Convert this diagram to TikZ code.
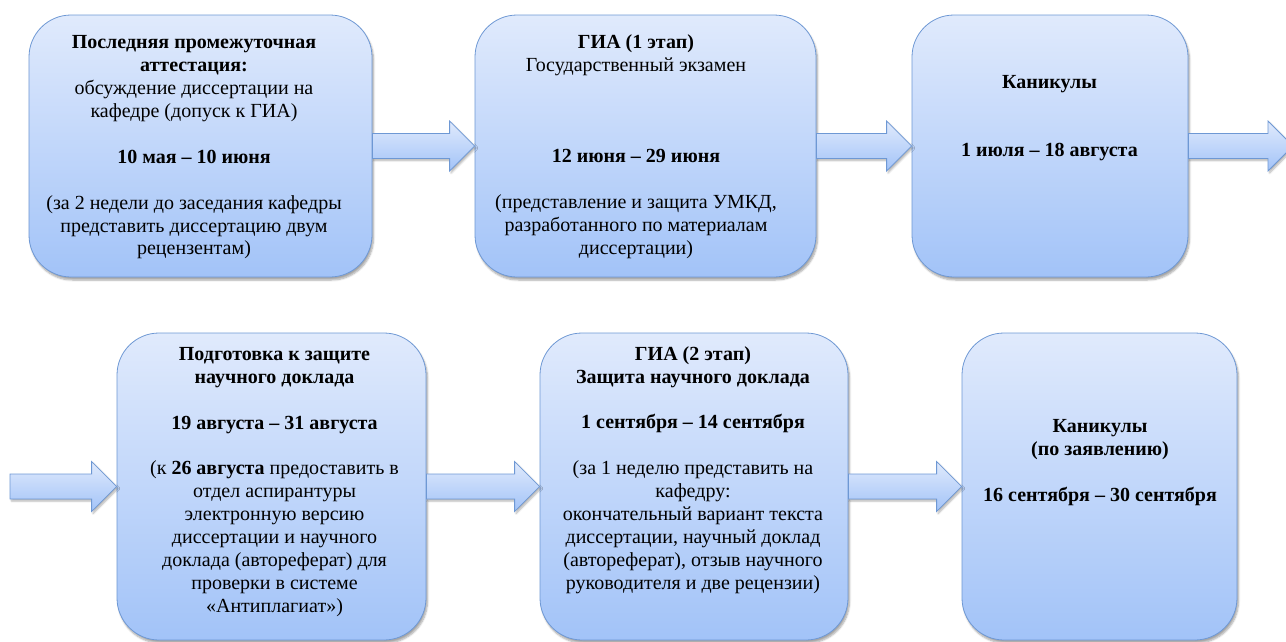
\documentclass[tikz,border=0pt]{standalone}
\usepackage{fontspec}
\setmainfont{Liberation Serif}
\usepackage{tikz}
\usetikzlibrary{calc,shadows.blur}
\definecolor{boxtop}{RGB}{224,234,252}
\definecolor{boxbot}{RGB}{162,195,248}
\definecolor{boxline}{RGB}{110,152,212}
\tikzstyle{stage} = [rectangle, rounded corners=42pt, draw=boxline, thick, top color=boxtop, bottom color=boxbot,
  blur shadow={shadow xshift=1.5pt, shadow yshift=-3pt, shadow blur steps=6, shadow opacity=35}]
\tikzstyle{stagetext} = [align=center, inner sep=0pt, text=black, font=\fontsize{20}{22.9}\selectfont]
\tikzstyle{fatarrow} = [draw=boxline, thick, top color=boxtop, bottom color=boxbot,
  blur shadow={shadow xshift=1.5pt, shadow yshift=-2pt, shadow blur steps=5, shadow opacity=30}]
\newcommand{\fatarrow}[2]{%
  \path[fatarrow] ($(#1)+(0,-12.5)$) -- ($(#2)+(-25,-12.5)$) -- ($(#2)+(-25,-25)$) -- (#2)
    -- ($(#2)+(-25,25)$) -- ($(#2)+(-25,12.5)$) -- ($(#1)+(0,12.5)$) -- cycle;}

\begin{document}
\begin{tikzpicture}[x=1pt,y=-1pt]
  \useasboundingbox (0,0) rectangle (1286,641);
  % upper row
  \node[stage, minimum width=343pt, minimum height=262pt] (b1) at (200.5,146) {};
  \node[stage, minimum width=341pt, minimum height=262pt] (b2) at (645.5,146) {};
  \node[stage, minimum width=276pt, minimum height=262pt] (b3) at (1050,146) {};
  % lower row
  \node[stage, minimum width=309pt, minimum height=307pt] (b4) at (271.5,486.5) {};
  \node[stage, minimum width=308pt, minimum height=307pt] (b5) at (694,486.5) {};
  \node[stage, minimum width=275pt, minimum height=307pt] (b6) at (1099.5,486.5) {};
  \coordinate (out1) at (1293,146);
  \coordinate (in2) at (10,486.5);

  \node[stagetext] (t1) at (194,147.5) {\textbf{Последняя промежуточная}\\ \textbf{аттестация:}\\
    обсуждение диссертации на\\ кафедре (допуск к ГИА)\\[22.9pt] \textbf{10 мая – 10 июня}\\[22.9pt]
    (за 2 недели до заседания кафедры\\ представить диссертацию двум\\ рецензентам)};
  \node[stagetext] (t2) at (636,146.5) {\textbf{ГИА (1 этап)}\\ Государственный экзамен\\[68.7pt]
    \textbf{12 июня – 29 июня}\\[22.9pt] (представление и защита УМКД,\\
    разработанного по материалам\\ диссертации)};
  \node[stagetext] (t3) at (1049.5,118) {\textbf{Каникулы}\\[45.8pt] \textbf{1 июля – 18 августа}};
  \node[stagetext] (t4) at (274.5,482) {\textbf{Подготовка к защите}\\ \textbf{научного доклада}\\[22.9pt]
    \textbf{19 августа – 31 августа}\\[22.9pt] (к \textbf{26 августа} предоставить в\\ отдел аспирантуры\\
    электронную версию\\ диссертации и научного\\ доклада (автореферат) для\\ проверки в системе\\
    «Антиплагиат»)};
  \node[stagetext] (t5) at (693,470) {\textbf{ГИА (2 этап)}\\ \textbf{Защита научного доклада}\\[22.9pt]
    \textbf{1 сентября – 14 сентября}\\[22.9pt] (за 1 неделю представить на\\ кафедру:\\
    окончательный вариант текста\\ диссертации, научный доклад\\ (автореферат), отзыв научного\\
    руководителя и две рецензии)};
  \node[stagetext] (t6) at (1100,462.5) {\textbf{Каникулы}\\ \textbf{(по заявлению)}\\[22.9pt]
    \textbf{16 сентября – 30 сентября}};

  \fatarrow{b1.east}{b2.west}
  \fatarrow{b2.east}{b3.west}
  \fatarrow{b3.east}{out1}
  \fatarrow{in2}{b4.west}
  \fatarrow{b4.east}{b5.west}
  \fatarrow{b5.east}{b6.west}
\end{tikzpicture}
\end{document}
